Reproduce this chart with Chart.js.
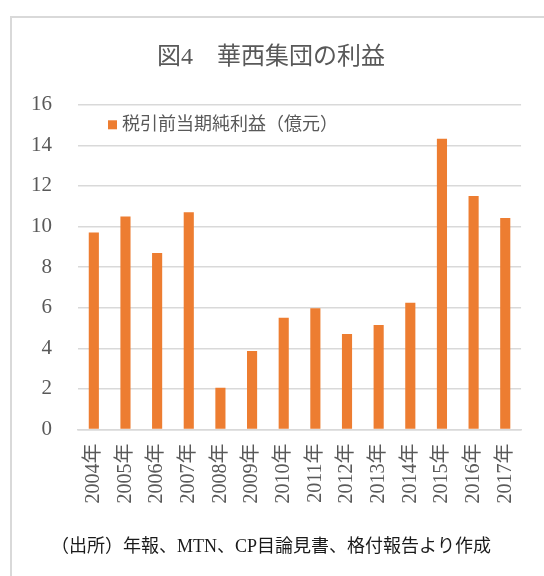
<!DOCTYPE html>
<html>
<head>
<meta charset="utf-8">
<script src="https://cdn.jsdelivr.net/npm/chart.js@4"></script>
<style>
  html, body { margin: 0; padding: 0; background: #fff; }
  #wrap { position: relative; width: 544px; height: 576px; overflow: hidden; }
  #frame { position: absolute; left: 10px; top: 16px; width: 600px; height: 620px;
           border: 2px solid #d9d9d9; box-sizing: border-box; }
  canvas { position: absolute; left: 0; top: 0; }
</style>
</head>
<body>
<div id="wrap">
  <div id="frame"></div>
  <canvas id="grafica-beneficio" width="544" height="576"></canvas>
</div>
<script>
// Datos del gráfico
const anios = ['2004年', '2005年', '2006年', '2007年', '2008年', '2009年', '2010年',
               '2011年', '2012年', '2013年', '2014年', '2015年', '2016年', '2017年'];
const beneficio = [9.7, 10.5, 8.7, 10.7, 2.05, 3.87, 5.5, 5.97, 4.7, 5.14, 6.24, 14.33, 11.5, 10.42];
const ticksY = [0, 2, 4, 6, 8, 10, 12, 14, 16];

const tituloTexto = '図4　華西集団の利益';
const serieNombre = '税引前当期純利益（億元）';
const fuenteTexto = '（出所）年報、MTN、CP目論見書、格付報告より作成';

const gris = '#595959';
const naranja = '#ED7D31';
const familia = '"Liberation Serif", "Noto Sans CJK JP", serif';

// Leyenda dibujada dentro del área del gráfico (arriba a la izquierda)
const leyendaInterna = {
    id: 'leyendaInterna',
    afterDraw(chart) {
        const { ctx, chartArea } = chart;
        const ds = chart.data.datasets[0];
        const x = chartArea.left + 30;
        const y = chartArea.top + 20;
        ctx.save();
        ctx.fillStyle = ds.backgroundColor;
        ctx.fillRect(x, y - 4.5, 9, 9);
        ctx.fillStyle = gris;
        ctx.font = '18px ' + familia;
        ctx.textBaseline = 'middle';
        ctx.textAlign = 'left';
        ctx.fillText(ds.label, x + 14, y);
        ctx.restore();
    }
};

const ctx = document.getElementById('grafica-beneficio').getContext('2d');
new Chart(ctx, {
    type: 'bar',
    data: {
        labels: anios,
        datasets: [{
            label: serieNombre,
            data: beneficio,
            backgroundColor: naranja,
            borderWidth: 0,
            categoryPercentage: 1,
            barPercentage: 0.32
        }]
    },
    options: {
        responsive: false,
        animation: false,
        layout: { padding: { left: 19, right: 21, top: 0, bottom: 0 } },
        plugins: {
            title: {
                display: true,
                text: tituloTexto,
                color: gris,
                font: { family: familia, size: 24, weight: 'normal' },
                padding: { top: 43, bottom: 33 }
            },
            subtitle: {
                display: true,
                position: 'bottom',
                text: fuenteTexto,
                color: '#1a1a1a',
                font: { family: familia, size: 18, weight: 'normal' },
                padding: { top: 8, bottom: 18 }
            },
            legend: { display: false },
            tooltip: { enabled: false }
        },
        scales: {
            y: {
                min: 0,
                max: 16,
                afterBuildTicks: (scale) => { scale.ticks = ticksY.map(v => ({ value: v })); },
                afterFit: (scale) => { scale.width = 59; },
                grid: { color: '#d9d9d9', lineWidth: 1.5, drawTicks: false },
                border: { display: false },
                ticks: {
                    color: gris,
                    padding: 26,
                    font: { family: familia, size: 21 }
                }
            },
            x: {
                afterFit: (scale) => { scale.height = 99; },
                grid: { display: false, drawTicks: false },
                border: { color: '#d9d9d9', width: 1.5 },
                ticks: {
                    color: gris,
                    padding: 14,
                    minRotation: 90,
                    maxRotation: 90,
                    font: { family: familia, size: 20 }
                }
            }
        }
    },
    plugins: [leyendaInterna]
});
</script>
</body>
</html>
